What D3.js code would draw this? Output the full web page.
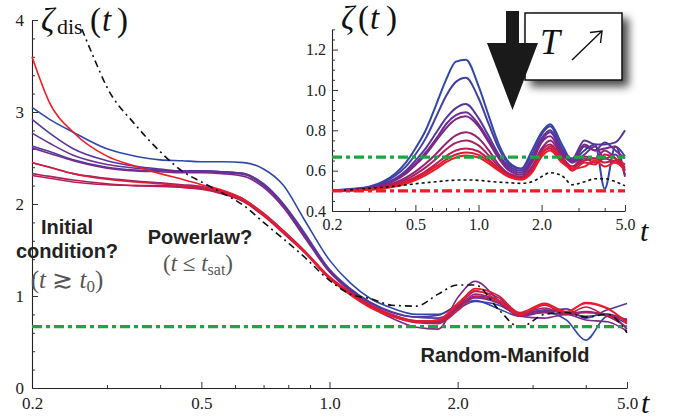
<!DOCTYPE html>
<html><head><meta charset="utf-8">
<script src="https://cdn.jsdelivr.net/npm/d3@7"></script>
<style>
body{margin:0;background:#fff}
svg{display:block}
.serif{font-family:"Liberation Serif","DejaVu Serif",serif}
.sans{font-family:"Liberation Sans",Arial,sans-serif;font-weight:bold}
</style>
</head><body>
<svg id="c" width="677" height="418"></svg>
<script>
// ---------- DATA ----------
const times = [0.2, 0.22, 0.25, 0.3, 0.35, 0.4, 0.45, 0.5, 0.56, 0.63, 0.7, 0.78, 0.87, 1.0, 1.12, 1.25, 1.4, 1.6, 1.8, 2.0, 2.2, 2.5, 2.8, 3.2, 3.6, 4.0, 4.5, 5.0];

// main panel: zeta_dis(t), blue (index 0) -> red (index 9)
const mainCurves = [
  [3.05,2.92,2.78,2.60,2.52,2.48,2.47,2.46,2.46,2.45,2.38,2.20,1.84,1.39,1.14,0.97,0.87,0.80,0.80,0.90,0.95,0.86,0.78,0.82,0.74,0.52,0.78,0.70],
  [2.63,2.57,2.48,2.40,2.37,2.36,2.36,2.36,2.35,2.33,2.22,2.00,1.70,1.29,1.08,0.93,0.83,0.77,0.76,0.86,0.94,0.90,0.80,0.84,0.82,0.78,0.80,0.74],
  [2.92,2.77,2.60,2.47,2.41,2.38,2.36,2.36,2.35,2.33,2.21,1.99,1.68,1.28,1.07,0.92,0.82,0.77,0.79,0.90,0.98,0.92,0.79,0.83,0.86,0.76,0.85,0.92],
  [2.77,2.66,2.53,2.43,2.39,2.37,2.35,2.35,2.34,2.32,2.20,1.98,1.67,1.27,1.06,0.90,0.79,0.72,0.74,0.88,1.00,0.95,0.80,0.85,0.82,0.82,0.80,0.64],
  [2.61,2.55,2.47,2.39,2.36,2.35,2.34,2.34,2.33,2.30,2.18,1.96,1.65,1.26,1.05,0.88,0.76,0.66,0.64,0.98,1.16,0.95,0.78,0.76,0.80,0.74,0.72,0.62],
  [2.45,2.40,2.33,2.28,2.25,2.23,2.21,2.19,2.14,2.05,1.90,1.71,1.50,1.20,1.03,0.90,0.80,0.73,0.72,0.88,1.05,0.98,0.80,0.82,0.80,0.83,0.78,0.66],
  [2.33,2.30,2.26,2.22,2.20,2.20,2.19,2.17,2.12,2.03,1.88,1.69,1.49,1.20,1.03,0.89,0.79,0.72,0.71,0.86,1.02,0.95,0.81,0.87,0.80,0.82,0.80,0.73],
  [2.31,2.28,2.24,2.21,2.20,2.19,2.18,2.16,2.11,2.02,1.87,1.68,1.48,1.19,1.02,0.88,0.78,0.71,0.70,0.84,0.99,0.93,0.78,0.90,0.80,0.88,0.78,0.75],
  [2.45,2.40,2.33,2.27,2.24,2.22,2.20,2.18,2.13,2.04,1.89,1.70,1.50,1.21,1.04,0.90,0.80,0.73,0.73,0.90,1.08,1.00,0.82,0.92,0.83,0.92,0.86,0.72],
  [3.60,3.10,2.78,2.52,2.41,2.33,2.27,2.21,2.15,2.05,1.89,1.70,1.49,1.19,1.01,0.87,0.78,0.72,0.74,0.92,1.06,0.95,0.80,0.91,0.82,0.93,0.87,0.70]
];

// main panel black dash-dot curve
const mainRefTimes = [0.262, 0.28, 0.3, 0.35, 0.4, 0.45, 0.5, 0.56, 0.63, 0.7, 0.78, 0.87, 1.0, 1.12, 1.25, 1.4, 1.6, 1.8, 2.0, 2.2, 2.5, 2.8, 3.2, 3.6, 4.0, 4.5, 5.0];
const mainRefValues = [3.9,3.58,3.27,2.86,2.57,2.36,2.24,2.12,1.98,1.80,1.62,1.43,1.17,1.02,0.97,0.90,0.89,1.02,1.12,1.12,0.85,0.66,0.80,0.82,0.77,0.80,0.60];

// inset: zeta(t), blue (index 0) -> red (index 9)
const insetCurves = [
  [0.50,0.505,0.51,0.52,0.545,0.585,0.64,0.71,0.80,0.93,1.05,1.14,1.15,1.02,0.87,0.73,0.64,0.61,0.70,0.79,0.83,0.73,0.65,0.70,0.73,0.51,0.72,0.67],
  [0.50,0.503,0.508,0.518,0.54,0.575,0.62,0.68,0.76,0.87,0.97,1.04,1.06,0.96,0.83,0.71,0.63,0.61,0.68,0.78,0.82,0.71,0.64,0.72,0.70,0.74,0.70,0.66],
  [0.50,0.503,0.507,0.515,0.533,0.56,0.60,0.65,0.71,0.79,0.86,0.91,0.93,0.86,0.77,0.68,0.62,0.60,0.66,0.76,0.80,0.70,0.66,0.75,0.73,0.73,0.74,0.80],
  [0.50,0.502,0.506,0.514,0.53,0.555,0.59,0.635,0.69,0.76,0.83,0.875,0.89,0.83,0.75,0.67,0.61,0.59,0.65,0.75,0.79,0.69,0.64,0.68,0.72,0.66,0.68,0.58],
  [0.50,0.502,0.505,0.513,0.528,0.552,0.585,0.628,0.68,0.75,0.81,0.855,0.87,0.82,0.74,0.66,0.60,0.58,0.64,0.74,0.77,0.68,0.65,0.73,0.70,0.71,0.72,0.57],
  [0.50,0.502,0.504,0.51,0.522,0.54,0.565,0.595,0.635,0.685,0.735,0.775,0.79,0.76,0.70,0.63,0.585,0.57,0.62,0.71,0.75,0.67,0.62,0.67,0.66,0.70,0.66,0.60],
  [0.50,0.501,0.503,0.508,0.518,0.534,0.555,0.582,0.616,0.66,0.705,0.738,0.75,0.725,0.675,0.62,0.58,0.565,0.61,0.70,0.73,0.66,0.61,0.66,0.64,0.66,0.64,0.62],
  [0.50,0.501,0.503,0.507,0.515,0.528,0.546,0.568,0.597,0.635,0.672,0.70,0.71,0.695,0.655,0.61,0.575,0.56,0.60,0.69,0.71,0.65,0.62,0.65,0.66,0.64,0.65,0.61],
  [0.50,0.501,0.502,0.506,0.513,0.525,0.541,0.561,0.588,0.622,0.655,0.68,0.69,0.678,0.645,0.605,0.572,0.558,0.595,0.68,0.72,0.66,0.60,0.64,0.63,0.68,0.66,0.63],
  [0.50,0.501,0.502,0.505,0.511,0.521,0.535,0.553,0.578,0.61,0.642,0.665,0.675,0.665,0.635,0.60,0.568,0.555,0.59,0.67,0.70,0.64,0.61,0.62,0.65,0.62,0.64,0.60]
];
const insetRefValues = [0.50,0.502,0.505,0.512,0.518,0.523,0.529,0.535,0.54,0.545,0.55,0.553,0.554,0.552,0.547,0.543,0.54,0.537,0.545,0.57,0.59,0.575,0.53,0.545,0.56,0.56,0.545,0.525];

const randomManifold = 2/3;   // green dash-dot level
const insetLowLevel = 0.5;    // red dash-dot level in inset

const mainXTicks = [0.2, 0.5, 1.0, 2.0, 5.0];
const mainXMinor = [0.3, 0.4, 0.6, 0.7, 0.8, 0.9, 3, 4];
const mainYTicks = [0, 1, 2, 3, 4];
const mainYMinor = [0.2,0.4,0.6,0.8,1.2,1.4,1.6,1.8,2.2,2.4,2.6,2.8,3.2,3.4,3.6,3.8];
const insetYTicks = [0.4, 0.6, 0.8, 1.0, 1.2];
const insetYMinor = [0.45,0.5,0.55,0.65,0.7,0.75,0.85,0.9,0.95,1.05,1.1,1.15,1.25,1.3];

// ---------- DRAW ----------
const SERIF = '"Liberation Serif","DejaVu Serif",serif';
const svg = d3.select("#c");
const defs = svg.append("defs");
const f = defs.append("filter").attr("id","shadow").attr("x","-20%").attr("y","-20%").attr("width","150%").attr("height","160%");
f.append("feDropShadow").attr("dx",6).attr("dy",6).attr("stdDeviation",4).attr("flood-color","#000").attr("flood-opacity",0.7);

const color = d3.interpolateRgbBasis(["#2f48aa","#6a2c98","#a41f66","#f01c24"]);

const xM = d3.scaleLog().domain([0.2,5]).range([32,627]);
const yM = d3.scaleLinear().domain([0,4]).range([388,20]);
const xI = d3.scaleLog().domain([0.2,5]).range([332,625]);
const yI = d3.scaleLinear().domain([0.4,1.3]).range([211,29.4]);

const fmt = d3.format(".1f");

function drawAxes(g, x, y, xT, xMin, yT, yMin, yFmt, fs, xPad, yPad){
  g.append("g").attr("transform",`translate(0,${y.range()[0]})`)
    .call(d3.axisBottom(x).tickValues(xT).tickFormat(fmt).tickSize(-6).tickSizeOuter(0).tickPadding(xPad));
  const xm = g.append("g").attr("transform",`translate(0,${y.range()[0]})`)
    .call(d3.axisBottom(x).tickValues(xMin).tickFormat("").tickSize(-3).tickSizeOuter(0));
  xm.select(".domain").remove();
  g.append("g").attr("transform",`translate(${x.range()[0]},0)`)
    .call(d3.axisLeft(y).tickValues(yT).tickFormat(yFmt).tickSize(-6).tickSizeOuter(0).tickPadding(yPad));
  const ym = g.append("g").attr("transform",`translate(${x.range()[0]},0)`)
    .call(d3.axisLeft(y).tickValues(yMin).tickFormat("").tickSize(-3).tickSizeOuter(0));
  ym.select(".domain").remove();
  g.selectAll("g").attr("font-family",SERIF);
  g.selectAll(".domain").attr("stroke","#222").attr("stroke-width",1.1);
  g.selectAll(".tick line").attr("stroke","#333");
  g.selectAll(".tick text").attr("font-size",fs).attr("fill","#222").style("font-family",SERIF);
}

// main axes
const gM = svg.append("g");
drawAxes(gM, xM, yM, mainXTicks, mainXMinor, mainYTicks, mainYMinor, d3.format("d"), 17, 9, 8);

const lineM = d3.line().x(d=>xM(d[0])).y(d=>yM(d[1])).curve(d3.curveMonotoneX);
const lineI = d3.line().x(d=>xI(d[0])).y(d=>yI(d[1])).curve(d3.curveMonotoneX);

// main curves
mainCurves.forEach((vals,i)=>{
  gM.append("path").datum(times.map((t,k)=>[t,vals[k]]))
    .attr("d",lineM).attr("fill","none").attr("stroke",color(i/9)).attr("stroke-width",1.6);
});
gM.append("path").datum(mainRefTimes.map((t,k)=>[t,mainRefValues[k]]))
  .attr("d",lineM).attr("fill","none").attr("stroke","#111").attr("stroke-width",1.6)
  .attr("stroke-dasharray","7,4,2,4");
gM.append("line").attr("x1",xM(0.2)).attr("x2",xM(5)).attr("y1",yM(randomManifold)).attr("y2",yM(randomManifold))
  .attr("stroke","#1ca540").attr("stroke-width",3.2).attr("stroke-dasharray","10,4,4,4");

// inset
const gI = svg.append("g");
drawAxes(gI, xI, yI, mainXTicks, mainXMinor, insetYTicks, insetYMinor, fmt, 16, 8, 6);
insetCurves.forEach((vals,i)=>{
  gI.append("path").datum(times.map((t,k)=>[t,vals[k]]))
    .attr("d",lineI).attr("fill","none").attr("stroke",color(i/9)).attr("stroke-width",2);
});
gI.append("path").datum(times.map((t,k)=>[t,insetRefValues[k]]))
  .attr("d",lineI).attr("fill","none").attr("stroke","#111").attr("stroke-width",1.6)
  .attr("stroke-dasharray","3,3");
gI.append("line").attr("x1",xI(0.2)).attr("x2",xI(5)).attr("y1",yI(randomManifold)).attr("y2",yI(randomManifold))
  .attr("stroke","#1ca540").attr("stroke-width",3.2).attr("stroke-dasharray","10,4,4,4");
gI.append("line").attr("x1",xI(0.2)).attr("x2",xI(5)).attr("y1",yI(insetLowLevel)).attr("y2",yI(insetLowLevel))
  .attr("stroke","#ee1c24").attr("stroke-width",3.2).attr("stroke-dasharray","10,4,4,4");

// axis titles
const mt = svg.append("text").attr("class","serif").attr("y",31).attr("font-size",33).attr("fill","#111");
mt.append("tspan").attr("x",41).attr("font-style","italic").text("ζ");
mt.append("tspan").attr("x",57).attr("font-size",22).attr("dy",3).text("dis");
mt.append("tspan").attr("x",90).attr("dy",-3).text("(");
mt.append("tspan").attr("x",102).attr("font-style","italic").text("t");
mt.append("tspan").attr("x",117).text(")");

const it = svg.append("text").attr("class","serif").attr("y",29).attr("font-size",33).attr("fill","#111");
it.append("tspan").attr("x",341).attr("font-style","italic").text("ζ");
it.append("tspan").attr("x",358).text("(");
it.append("tspan").attr("x",370).attr("font-style","italic").text("t");
it.append("tspan").attr("x",386).text(")");

svg.append("text").attr("class","serif").attr("x",641).attr("y",413).attr("font-size",30).attr("font-style","italic").attr("fill","#111").text("t");
svg.append("text").attr("class","serif").attr("x",640).attr("y",241).attr("font-size",30).attr("font-style","italic").attr("fill","#111").text("t");

// annotations
function sans(x,y,txt){svg.append("text").attr("class","sans").attr("x",x).attr("y",y).attr("text-anchor","middle").attr("font-size",20).attr("fill","#222").text(txt);}
sans(67,234,"Initial");
sans(67,258,"condition?");
sans(200,244,"Powerlaw?");
sans(505,362,"Random-Manifold");

const a1 = svg.append("text").attr("class","serif").attr("x",67).attr("y",288).attr("text-anchor","middle").attr("font-size",25).attr("fill","#555");
a1.append("tspan").text("(");
a1.append("tspan").attr("font-style","italic").text("t");
a1.append("tspan").text(" ≳ ");
a1.append("tspan").attr("font-style","italic").text("t");
a1.append("tspan").attr("font-size",17).attr("dy",4).text("0");
a1.append("tspan").attr("dy",-4).text(")");

const a2 = svg.append("text").attr("class","serif").attr("x",198).attr("y",271).attr("text-anchor","middle").attr("font-size",23).attr("fill","#555");
a2.append("tspan").text("(");
a2.append("tspan").attr("font-style","italic").text("t");
a2.append("tspan").text(" ≤ ");
a2.append("tspan").attr("font-style","italic").text("t");
a2.append("tspan").attr("font-size",16).attr("dy",4).text("sat");
a2.append("tspan").attr("dy",-4).text(")");

// T box with shadow
svg.append("rect").attr("x",525).attr("y",13).attr("width",97).attr("height",67)
  .attr("fill","#fff").attr("stroke","#111").attr("stroke-width",1.5).attr("filter","url(#shadow)");
svg.append("text").attr("class","serif").attr("x",540).attr("y",54).attr("font-size",36).attr("font-style","italic").attr("fill","#111").text("T");
svg.append("line").attr("x1",572).attr("y1",60).attr("x2",602).attr("y2",31).attr("stroke","#111").attr("stroke-width",1.4);
svg.append("path").attr("d","M590,32.5 L602,31 L600.5,43").attr("fill","none").attr("stroke","#111").attr("stroke-width",1.4);

// big down arrow
svg.append("path").attr("d","M506,11 L519,11 L519,43 L538,43 L512.5,110 L487,43 L506,43 Z").attr("fill","#1a1a1a");
</script>
</body></html>
